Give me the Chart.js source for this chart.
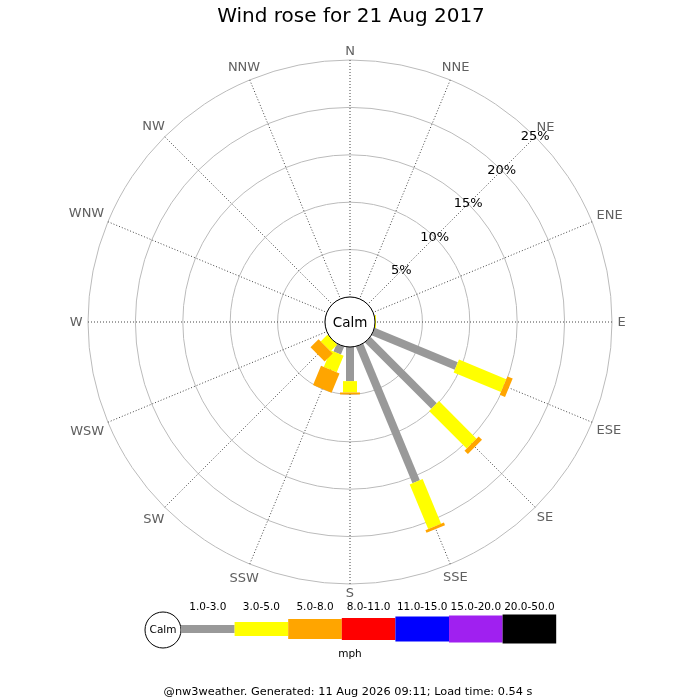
<!DOCTYPE html>
<html>
<head>
<meta charset="utf-8">
<title>Wind rose for 21 Aug 2017</title>
<script src="https://cdn.jsdelivr.net/npm/chart.js@4.4.0/dist/chart.umd.min.js"></script>
<style>
  html, body { margin: 0; padding: 0; background: #fff; }
  #rose { display: block; }
</style>
</head>
<body>
<canvas id="rose" width="700" height="700"></canvas>
<script>
// compass points, clockwise from north
const directions = ['N', 'NNE', 'NE', 'ENE', 'E', 'ESE', 'SE', 'SSE',
                    'S', 'SSW', 'SW', 'WSW', 'W', 'WNW', 'NW', 'NNW'];

// speed classes (mph)
const speedClasses = ['1.0-3.0', '3.0-5.0', '5.0-8.0', '8.0-11.0', '11.0-15.0', '15.0-20.0', '20.0-50.0'];

// % of time per direction for each speed class
const freq1to3   = [0, 0, 0, 0, 0,   9.5, 9.9, 15.6, 3.6, 0.9, 0,   0, 0, 0, 0, 0];
const freq3to5   = [0, 0, 0, 0, 0.1, 5.4, 5.6, 5.1,  1.2, 1.9, 1.0, 0, 0, 0, 0, 0];
const freq5to8   = [0, 0, 0, 0, 0,   0.6, 0.5, 0.3,  0.2, 2.2, 1.2, 0, 0, 0, 0, 0];
const freq8to11  = [0, 0, 0, 0, 0,   0,   0,   0,    0,   0,   0,   0, 0, 0, 0, 0];
const freq11to15 = [0, 0, 0, 0, 0,   0,   0,   0,    0,   0,   0,   0, 0, 0, 0, 0];
const freq15to20 = [0, 0, 0, 0, 0,   0,   0,   0,    0,   0,   0,   0, 0, 0, 0, 0];
const freq20to50 = [0, 0, 0, 0, 0,   0,   0,   0,    0,   0,   0,   0, 0, 0, 0, 0];

// rings and their labels
const ringTicks = [0, 5, 10, 15, 20, 25];
const ringLabels = ['', '5%', '10%', '15%', '20%', '25%'];

const classColours = ['#999999', '#ffff00', '#ffa500', '#ff0000', '#0000ff', '#a020f0', '#000000'];
const barWidths = [8, 14, 20, 22, 25, 27, 29];

const FONT = "'DejaVu Sans', 'Liberation Sans', sans-serif";
const calmPx = 25;      // radius of the calm circle
const roseRadius = 262; // outer ring radius
const scaleMin = -(ringTicks[ringTicks.length - 1] * calmPx) / (roseRadius - calmPx);

const freqs = [freq1to3, freq3to5, freq5to8, freq8to11, freq11to15, freq15to20, freq20to50];

const datasets = freqs.map((arr, k) => ({
    label: speedClasses[k],
    data: arr,
    backgroundColor: classColours[k],
    borderColor: classColours[k],
    borderWidth: 0,
    pointRadius: 0,
    pointHoverRadius: 0,
    showLine: false,
    fill: false,
}));

function text(ctx, str, x, y, size, colour, align) {
    ctx.font = size + 'px ' + FONT;
    ctx.fillStyle = colour || '#000';
    ctx.textAlign = align || 'center';
    ctx.textBaseline = 'middle';
    ctx.fillText(str, x, y);
}

const windRosePlugin = {
    id: 'windRose',
    afterDatasetsDraw(chart) {
        const ctx = chart.ctx;
        const scale = chart.scales.r;
        ctx.save();
        ctx.lineCap = 'butt';

        // stacked bars for each direction
        directions.forEach((dir, i) => {
            let cum = 0;
            chart.data.datasets.forEach((ds, k) => {
                const v = ds.data[i];
                if (!v) return;
                const p0 = scale.getPointPositionForValue(i, cum);
                const p1 = scale.getPointPositionForValue(i, cum + v);
                ctx.strokeStyle = ds.backgroundColor;
                ctx.lineWidth = barWidths[k];
                ctx.beginPath();
                ctx.moveTo(p0.x, p0.y);
                ctx.lineTo(p1.x, p1.y);
                ctx.stroke();
                cum += v;
            });
        });

        // calm circle in the middle
        const calmR = scale.getDistanceFromCenterForValue(0);
        ctx.beginPath();
        ctx.arc(scale.xCenter, scale.yCenter, calmR, 0, Math.PI * 2);
        ctx.fillStyle = '#fff';
        ctx.fill();
        ctx.lineWidth = 1;
        ctx.strokeStyle = '#000';
        ctx.stroke();
        text(ctx, 'Calm', scale.xCenter, scale.yCenter + 1, 13.5, '#000');

        // ring labels along NE
        ringTicks.forEach((v, j) => {
            if (!ringLabels[j]) return;
            const p = scale.getPointPositionForValue(2, v);
            text(ctx, ringLabels[j], p.x, p.y, 13, '#000');
        });

        // direction labels just outside the outer ring
        const outer = scale.getDistanceFromCenterForValue(scale.max);
        ctx.font = '13px ' + FONT;
        directions.forEach((dir, i) => {
            const a = scale.getIndexAngle(i);
            const w = ctx.measureText(dir).width;
            const d = outer + 5.5 + (w / 2) * Math.abs(Math.sin(a)) + 3.5 * Math.abs(Math.cos(a));
            const p = scale.getPointPosition(i, d);
            text(ctx, dir, p.x, p.y + 1, 13, '#606060');
        });
        ctx.restore();
    },
    afterDraw(chart) {
        const ctx = chart.ctx;
        ctx.save();
        text(ctx, 'Wind rose for 21 Aug 2017', 351, 17, 20, '#000');

        // legend
        const lx = 181, segW = 53.6, ly = 629;
        ctx.beginPath();
        ctx.arc(163, ly + 1, 18, 0, Math.PI * 2);
        ctx.fillStyle = '#fff';
        ctx.fill();
        ctx.lineWidth = 1;
        ctx.strokeStyle = '#000';
        ctx.stroke();
        text(ctx, 'Calm', 163, ly + 1, 10.5, '#000');
        speedClasses.forEach((lab, k) => {
            const x0 = lx + k * segW;
            ctx.fillStyle = classColours[k];
            ctx.fillRect(x0, ly - barWidths[k] / 2, segW, barWidths[k]);
            text(ctx, lab, x0 + segW / 2, 607, 10.5, '#000');
        });
        text(ctx, 'mph', 350, 654, 10.5, '#000');

        text(ctx, '@nw3weather. Generated: 11 Aug 2026 09:11; Load time: 0.54 s', 348, 692, 11.3, '#000');
        ctx.restore();
    }
};

new Chart(document.getElementById('rose'), {
    type: 'radar',
    data: { labels: directions, datasets: datasets },
    plugins: [windRosePlugin],
    options: {
        responsive: false,
        animation: false,
        layout: { padding: { left: 88, right: 88, top: 60, bottom: 116 } },
        plugins: {
            legend: { display: false },
            title: { display: false },
            tooltip: { enabled: false },
        },
        scales: {
            r: {
                min: scaleMin,
                max: ringTicks[ringTicks.length - 1],
                afterBuildTicks: (scale) => {
                    scale.ticks = ringTicks.map(v => ({ value: v }));
                },
                ticks: { display: false },
                pointLabels: { display: false },
                grid: { circular: true, color: '#bbbbbb', lineWidth: 1 },
                angleLines: { color: '#444444', lineWidth: 1, borderDash: [1, 2] },
            }
        }
    }
});
</script>
</body>
</html>
